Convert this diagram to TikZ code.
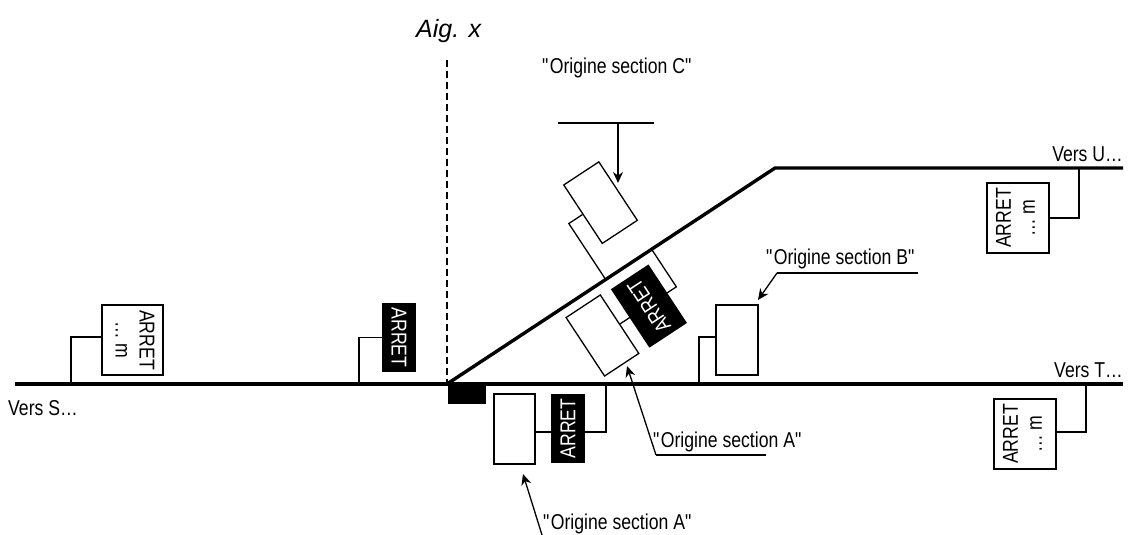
\documentclass[tikz,border=0pt]{standalone}
\usepackage{fontspec}
\setmainfont{Liberation Sans}[FakeStretch=0.82]
\newfontfamily\aigfont{Liberation Sans}
\usetikzlibrary{arrows.meta}
\tikzset{>={Stealth[length=11pt,width=10pt]}}
\tikzset{
  voie/.style={line width=3.4pt},
  poteau/.style={line width=1.3pt},
  panneau/.style={draw, line width=1.3pt, fill=white, inner sep=0pt,
    minimum width=42pt, minimum height=70pt},
  arret/.style={fill=black, text=white, inner sep=0pt,
    minimum width=34pt, minimum height=69pt},
  texte/.style={inner sep=0pt}
}
\newcommand{\arretm}[1]{\rotatebox{#1}{\begin{tabular}{@{}c@{}}ARRET\\… m\end{tabular}}}

\begin{document}
\begin{tikzpicture}[x=1pt, y=-1pt, font=\fontsize{21.5}{24}\selectfont]
    \useasboundingbox (0,0) rectangle (1144,535);
    % voies
    \coordinate (vs) at (15,384);
    \coordinate (aig) at (447,384);
    \coordinate (vt) at (1123,384);
    \coordinate (coude) at (775,168);
    \coordinate (vu) at (1123,168);
    \draw[voie] (vs) -- (vt);
    \draw[voie] (aig) -- (coude) -- (vu);
    \fill (448,385) rectangle (486,404);
    \draw[line width=1.5pt, dash pattern=on 7pt off 4pt] (447,60) -- (aig);
    \node[texte, anchor=base west, font=\aigfont\itshape\fontsize{25}{28}\selectfont] (aigx) at (416,38) {Aig. x};
    \node[texte, anchor=base west] (versS) at (8,415) {Vers S…};
    \node[texte, anchor=base east] (versT) at (1123,377) {Vers T…};
    \node[texte, anchor=base east] (versU) at (1123,161) {Vers U…};
    % signaux voie principale
    \coordinate (p1) at (71,384);
    \coordinate (p2) at (359,384);
    \coordinate (p3) at (606,384);
    \coordinate (p4) at (699,384);
    \coordinate (p5) at (1079,168);
    \coordinate (p6) at (1086,384);
    \node[panneau, minimum width=61pt] (sigS) at (132.5,340) {\arretm{-90}};
    \draw[poteau] (p1) |- ([yshift=3pt]sigS.west);
    \node[arret] (arS) at (399,337.5) {\rotatebox{-90}{ARRET}};
    \draw[poteau] (p2) |- (arS.west);
    \node[panneau, minimum width=41pt] (sigA) at (514.5,429) {};
    \draw[poteau] (p3) |- ([yshift=-3pt]sigA.east);
    \node[arret] (arA) at (568,428.5) {\rotatebox{90}{ARRET}};
    \node[panneau] (sigB) at (737,340) {};
    \draw[poteau] (p4) |- ([yshift=3pt]sigB.west);
    \node[panneau, minimum width=62pt] (sigU) at (1018,218) {\arretm{90}};
    \draw[poteau] (p5) |- (sigU.east);
    \node[panneau, minimum width=62pt] (sigT) at (1025,434) {\arretm{90}};
    \draw[poteau] (p6) |- ([yshift=2pt]sigT.east);
    % signaux de la branche
    \begin{scope}[shift={(aig)}, rotate=33.37, transform shape]
        \node[panneau] (sigC) at (228,-67) {};
        \draw[poteau] (190,0) -- (190,-67) -- (sigC.west);
        \node[panneau, minimum width=41pt] (sigA2) at (156.5,45) {};
        \draw[poteau] (245,0) -- (245,45) -- (sigA2.east);
        \node[arret, minimum width=45pt, minimum height=70pt] (arB) at (211.5,46) {\rotatebox{90}{ARRET}};
    \end{scope}
    % origines
    \node[texte, anchor=base west] (origC) at (542,74) {\textquotedbl Origine section C\textquotedbl};
    \node[texte, anchor=base west] (origB) at (766,264) {\textquotedbl Origine section B\textquotedbl};
    \node[texte, anchor=base west] (origA) at (653,447) {\textquotedbl Origine section A\textquotedbl};
    \node[texte, anchor=base west] (origA2) at (543,529) {\textquotedbl Origine section A\textquotedbl};
    \coordinate (barC) at (618,123);
    \coordinate (fB) at (777,273);
    \coordinate (fA) at (656,455);
    \coordinate (fA2) at (542,535);
    \draw[poteau] (558,123) -- (654,123);
    \draw[poteau, ->] (barC) -- (618,183);
    \draw[poteau] (918,273) -- (fB);
    \draw[poteau, ->] (fB) -- (758,300);
    \draw[poteau] (766,455) -- (fA);
    \draw[poteau, ->] (fA) -- (627,366);
    \draw[poteau, ->] (fA2) -- (523,474);
\end{tikzpicture}
\end{document}
